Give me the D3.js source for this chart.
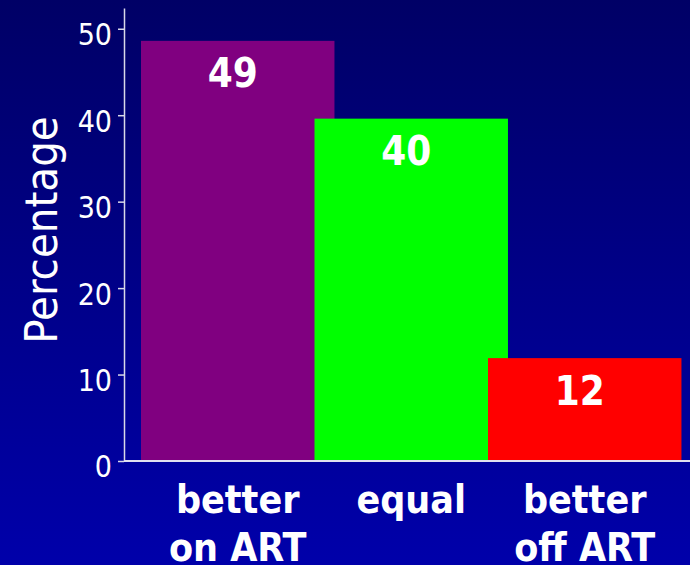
<!DOCTYPE html>
<html>
<head>
<meta charset="utf-8">
<script src="https://cdn.jsdelivr.net/npm/d3@7"></script>
<style>
  html, body { margin: 0; padding: 0; background: #000080; }
  svg { display: block; }
</style>
</head>
<body>
<script>
// ---- data ----
const categories = ["better on ART", "equal", "better off ART"];
const categoryLines = [["better", "on ART"], ["equal"], ["better", "off ART"]];
const values = [48.6, 39.6, 11.9];
const valueLabels = ["49", "40", "12"];
const barColors = ["#800080", "#00ff00", "#ff0000"];
const yTicks = [0, 10, 20, 30, 40, 50];
const yTitle = "Percentage";

const W = 690, H = 565;
const fontC = "'DejaVu Sans Condensed', 'DejaVu Sans', sans-serif";

const svg = d3.select("body").append("svg").attr("width", W).attr("height", H);

const defs = svg.append("defs");
const grad = defs.append("linearGradient").attr("id", "bg").attr("x1", 0).attr("y1", 0).attr("x2", 0).attr("y2", 1);
grad.append("stop").attr("offset", "0%").attr("stop-color", "#000066");
grad.append("stop").attr("offset", "100%").attr("stop-color", "#0000aa");
svg.append("rect").attr("width", W).attr("height", H).attr("fill", "url(#bg)");

const y = d3.scaleLinear().domain([0, 52.4]).range([461, 8]);
const x = d3.scaleBand().domain(categories).range([141, 661.5]).padding(0);
const barW = x.bandwidth() * 1.115;

// bars
svg.append("g").selectAll("rect").data(categories).join("rect")
  .attr("x", d => x(d))
  .attr("y", (d, i) => y(values[i]))
  .attr("width", barW)
  .attr("height", (d, i) => y(0) - y(values[i]))
  .attr("fill", (d, i) => barColors[i]);

// value labels
svg.append("g").selectAll("text").data(categories).join("text")
  .attr("x", d => x(d) + barW / 2 - 5)
  .attr("y", (d, i) => y(values[i]) + 46.5)
  .attr("text-anchor", "middle")
  .attr("fill", "#ffffff")
  .attr("font-family", fontC)
  .attr("font-weight", "bold")
  .attr("font-size", 40)
  .text((d, i) => valueLabels[i]);

// y axis
const yAxis = d3.axisLeft(y).tickValues(yTicks).tickSize(6).tickSizeOuter(0).tickPadding(6);
const gy = svg.append("g").attr("transform", "translate(124,0)").call(yAxis);
gy.select(".domain").attr("stroke", "#d8d8e8").attr("stroke-width", 1.5);
gy.selectAll(".tick line").attr("stroke", "#d8d8e8").attr("stroke-width", 1.5);
gy.selectAll(".tick text")
  .attr("fill", "#ffffff")
  .attr("font-family", fontC)
  .attr("font-size", 30)
  .attr("dy", "0.53em");

// baseline
svg.append("line")
  .attr("x1", 124).attr("x2", W)
  .attr("y1", y(0)).attr("y2", y(0))
  .attr("stroke", "#e0e0f0").attr("stroke-width", 2);

// y title
svg.append("text")
  .attr("transform", "translate(57,230) rotate(-90)")
  .attr("text-anchor", "middle")
  .attr("fill", "#ffffff")
  .attr("font-family", fontC)
  .attr("font-size", 45)
  .text(yTitle);

// category labels
const cat = svg.append("g").selectAll("text").data(categories).join("text")
  .attr("x", d => x(d) + barW / 2)
  .attr("y", 513)
  .attr("text-anchor", "middle")
  .attr("fill", "#ffffff")
  .attr("font-family", fontC)
  .attr("font-weight", "bold")
  .attr("font-size", 39);
cat.each(function(d, i) {
  const t = d3.select(this);
  categoryLines[i].forEach((ln, j) => {
    t.append("tspan")
      .attr("x", x(d) + barW / 2)
      .attr("dy", j === 0 ? 0 : 48)
      .text(ln);
  });
});
</script>
</body>
</html>
